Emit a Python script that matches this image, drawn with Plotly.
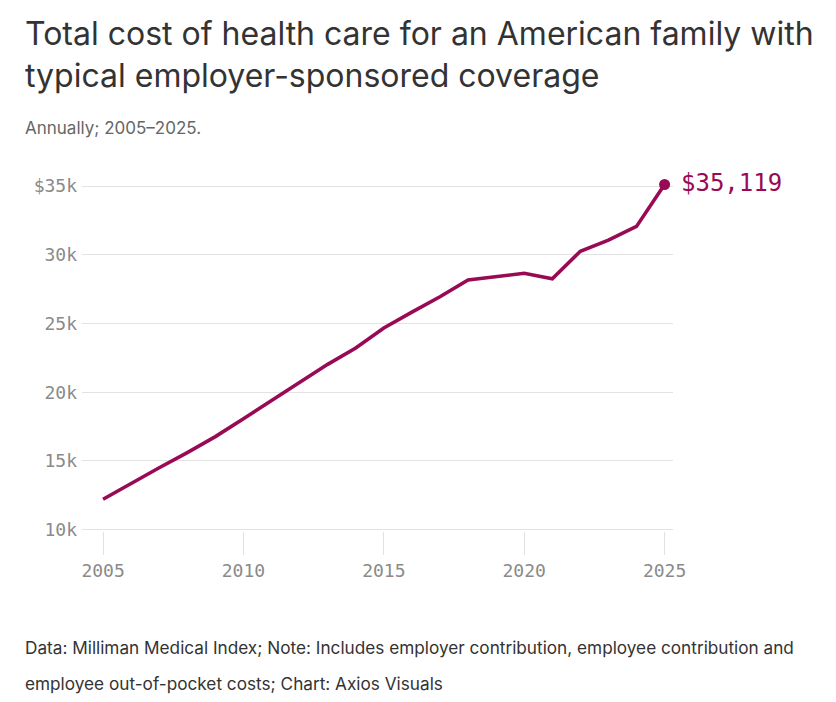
import plotly.graph_objects as go

years = list(range(2005, 2026))
cost = [12214, 13382, 14500, 15609, 16771, 18074, 19393, 20728, 22030, 23215,
        24671, 25826, 26944, 28166, 28386, 28653, 28256, 30260, 31065, 32066, 35119]
y_ticks = [10000, 15000, 20000, 25000, 30000, 35000]
y_ticktext = ["10k", "15k", "20k", "25k", "30k", "$35k"]
x_ticks = [2005, 2010, 2015, 2020, 2025]

title_line1 = "Total cost of health care for an American family with"
title_line2 = "typical employer-sponsored coverage"
subtitle_text = "Annually; 2005–2025."
footer1 = "Data: Milliman Medical Index; Note: Includes employer contribution, employee contribution and"
footer2 = "employee out-of-pocket costs; Chart: Axios Visuals"

LINE = "#990a55"
MONO = "DejaVu Sans Mono"
SANS = "Inter"

W, H = 820, 686
L, R, T, B = 74, 154.6, 174, 162.6

fig = go.Figure()
fig.add_trace(go.Scatter(x=years, y=cost, mode="lines",
                         line=dict(color=LINE, width=3.6), hoverinfo="skip",
                         cliponaxis=False))
fig.add_trace(go.Scatter(x=[years[-1]], y=[cost[-1]], mode="markers",
                         marker=dict(color=LINE, size=11),
                         cliponaxis=False, hoverinfo="skip"))
fig.add_annotation(x=years[-1], y=cost[-1], xref="x", yref="y",
                   text="$" + f"{cost[-1]:,}", showarrow=False,
                   xanchor="left", yanchor="middle", xshift=14, yshift=1,
                   font=dict(family=MONO, size=24, color=LINE))

fig.update_layout(
    width=W, height=H,
    margin=dict(l=L, r=R, t=T, b=B),
    paper_bgcolor="white", plot_bgcolor="white",
    showlegend=False,
    xaxis=dict(range=[2004.25, 2025.3], tickvals=x_ticks, showgrid=False,
               zeroline=False, showline=False, ticks="outside", ticklen=23,
               tickcolor="#e2e2e2", tickwidth=1,
               tickfont=dict(family=MONO, size=18, color="#8a8a8a")),
    yaxis=dict(range=[9900, 35300], tickvals=y_ticks, ticktext=y_ticktext,
               showgrid=True, gridcolor="#e2e2e2", gridwidth=1, zeroline=False,
               showline=False, ticks="", ticklabelstandoff=4,
               tickfont=dict(family=MONO, size=18, color="#8a8a8a")),
)

def paper_text(text, px_left, px_mid, size, color):
    fig.add_annotation(text=text, xref="paper", yref="paper",
                       x=(px_left - L) / (W - L - R),
                       y=1 - (px_mid - T) / (H - T - B),
                       xanchor="left", yanchor="middle", showarrow=False, align="left",
                       font=dict(family=SANS, size=size, color=color))

paper_text(title_line1, 15, 25, 32, "#333333")
paper_text(title_line2, 15, 67, 32, "#333333")
paper_text(subtitle_text, 15, 120, 17, "#666666")
paper_text(footer1, 15, 640, 17.2, "#333333")
paper_text(footer2, 15, 676, 17.2, "#333333")

fig.write_html("out.html")
